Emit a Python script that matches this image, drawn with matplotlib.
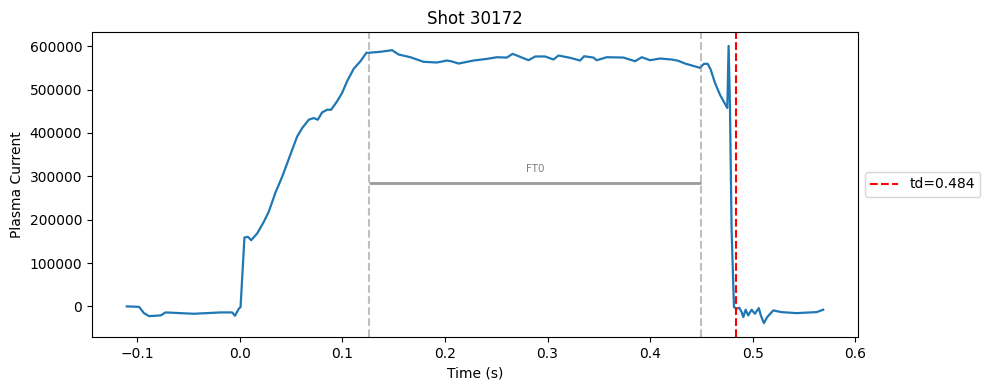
import matplotlib
matplotlib.use("Agg")
import matplotlib.pyplot as plt

shot = 30172
td = 0.484
ft_start = 0.126
ft_end = 0.450
ft_level = 284000
ft_label = "FT0"

time_s = [
    -0.1102, -0.0983, -0.0935, -0.0886, -0.0772, -0.0724, -0.0448, -0.0188, -0.0074, -0.0048,
    -0.0010, 0.0007, 0.0045, 0.0079, 0.0111, 0.0169, 0.0234, 0.0282, 0.0347, 0.0413,
    0.0462, 0.0510, 0.0559, 0.0608, 0.0672, 0.0721, 0.0760, 0.0802, 0.0851, 0.0890,
    0.0948, 0.0997, 0.1046, 0.1110, 0.1176, 0.1234, 0.1256, 0.1370, 0.1485, 0.1549,
    0.1663, 0.1792, 0.1922, 0.2020, 0.2068, 0.2133, 0.2279, 0.2410, 0.2507, 0.2604,
    0.2659, 0.2718, 0.2815, 0.2880, 0.2977, 0.3058, 0.3107, 0.3221, 0.3318, 0.3357,
    0.3447, 0.3480, 0.3578, 0.3740, 0.3854, 0.3919, 0.4000, 0.4097, 0.4211, 0.4276,
    0.4341, 0.4487, 0.4525, 0.4562, 0.4591, 0.4633, 0.4681, 0.4753, 0.4766, 0.4779,
    0.4795, 0.4818, 0.4844, 0.4869, 0.4893, 0.4909, 0.4932, 0.4957, 0.4990, 0.5022,
    0.5060, 0.5080, 0.5110, 0.5142, 0.5201, 0.5282, 0.5428, 0.5624, 0.5688,
]
plasma_current = [
    0, -1000, -15500, -22400, -20800, -13900, -17000, -13900, -13900, -21600,
    -5400, -1500, 159000, 160500, 152800, 168300, 195200, 218300, 262300, 299300,
    330300, 361100, 391900, 411400, 430600, 434500, 430600, 447500, 453700, 453700,
    473000, 492400, 519300, 548000, 565600, 585000, 585000, 587300, 591000, 581000,
    574800, 564200, 562600, 567200, 565000, 560200, 567200, 571000, 574800, 574000,
    582600, 577100, 567900, 576500, 576500, 569500, 578700, 573400, 567200, 577100,
    574000, 567900, 574800, 574000, 565600, 574800, 567900, 571800, 569500, 566500,
    560200, 550300, 559500, 559500, 546400, 515600, 488500, 457700, 601000, 461400,
    175900, -1500, -5400, -3000, -13200, -24700, -7700, -20800, -7700, -17000,
    -3900, -20800, -38600, -24700, -9300, -13200, -15500, -13200, -7700,
]

fig = plt.figure(figsize=(9.89, 3.9), dpi=100)
ax = fig.add_axes([92 / 989, 1 - 337 / 390, (858 - 92) / 989, (337 - 32) / 390])

ax.plot(time_s, plasma_current, color="#1f77b4", lw=1.6)
ax.axvline(ft_start, color="gray", ls="--", alpha=0.5)
ax.axvline(ft_end, color="gray", ls="--", alpha=0.5)
ax.hlines(ft_level, ft_start, ft_end, color="gray", lw=2, alpha=0.8)
ax.text((ft_start + ft_end) / 2, ft_level + 22000, ft_label, color="gray",
        fontsize=7.5, ha="center", va="bottom")
ax.axvline(td, color="red", ls="--", label=f"td={td}")

ax.set_title(f"Shot {shot}")
ax.set_xlabel("Time (s)")
ax.set_ylabel("Plasma Current")
ax.legend(loc="center left", bbox_to_anchor=(1.0, 0.5))

fig.savefig("out.png", dpi=100)
